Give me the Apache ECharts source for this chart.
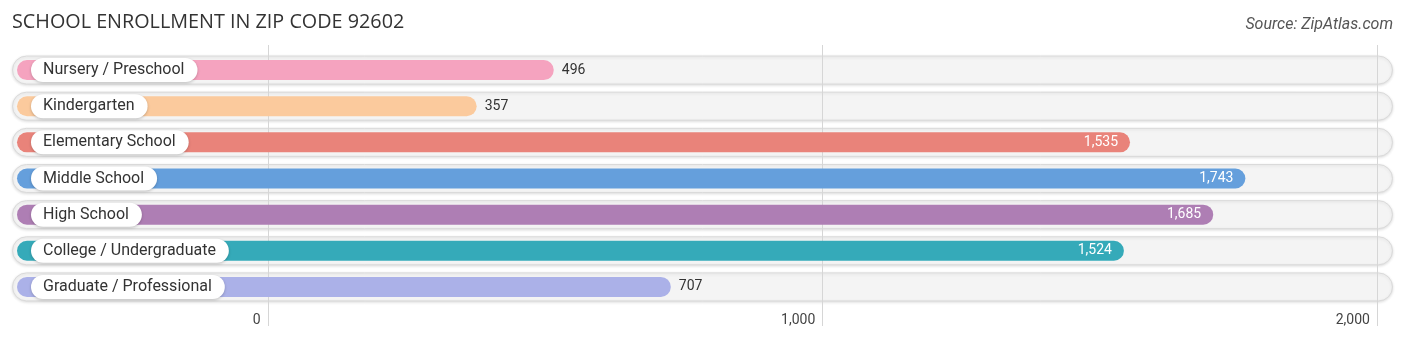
<!DOCTYPE html>
<html>
<head>
<meta charset="utf-8">
<title>School Enrollment in Zip Code 92602</title>
<script src="https://cdn.jsdelivr.net/npm/echarts@6/dist/echarts.min.js"></script>
<style>
  html, body { margin: 0; padding: 0; background: #ffffff; }
  #chart { width: 1406px; height: 342px; }
</style>
</head>
<body>
<div id="chart"></div>
<script>
// Enrollment by school level
const categories = [
  'Nursery / Preschool',
  'Kindergarten',
  'Elementary School',
  'Middle School',
  'High School',
  'College / Undergraduate',
  'Graduate / Professional'
];
const enrollment = [496, 357, 1535, 1743, 1685, 1524, 707];
const barColors = ['#f5a3bf', '#fbca9d', '#e9837a', '#659fdc', '#ae7eb4', '#35aab9', '#abb1e8'];
const tickValues = [0, 1000, 2000];

const AXIS_MIN = -461;
const AXIS_MAX = 2029;
const FONT = 'Roboto, "Noto Sans", sans-serif';

const fmt = v => v.toLocaleString('en-US');

const chart = echarts.init(document.getElementById('chart'), null, { renderer: 'canvas' });

// Light rounded track behind every row
function renderTrack(params, api) {
  const cs = params.coordSys;
  const yc = api.coord([0, api.value(0)])[1];
  const h = 28;
  return {
    type: 'rect',
    shape: { x: cs.x + 0.5, y: yc - h / 2, width: cs.width - 1, height: h, r: h / 2 },
    style: {
      fill: '#f4f4f4',
      stroke: '#dadada',
      lineWidth: 1,
      shadowColor: 'rgba(0,0,0,0.12)',
      shadowBlur: 3,
      shadowOffsetY: 1
    }
  };
}

// Vertical gridlines at the tick values, a little taller than the rows
function renderGrid(params, api) {
  const cs = params.coordSys;
  const x = Math.round(api.coord([api.value(0), 0])[0]) + 0.5;
  return {
    type: 'line',
    shape: { x1: x, y1: cs.y - 7, x2: x, y2: cs.y + cs.height + 21 },
    style: { stroke: '#d6d6d6', lineWidth: 1 }
  };
}

// Coloured value bar with its category pill and value label
function renderBar(params, api) {
  const idx = api.value(0);
  const val = api.value(1);
  const yc = api.coord([0, idx])[1];
  const x0 = api.coord([AXIS_MIN, idx])[0] + 5;
  const x1 = api.coord([val, idx])[0] + 11;
  const h = 20;
  const color = barColors[idx];
  const inside = val > 1000;
  return {
    type: 'group',
    children: [
      {
        type: 'rect',
        shape: { x: x0, y: yc - h / 2, width: x1 - x0, height: h, r: h / 2 },
        style: { fill: color }
      },
      {
        type: 'text',
        x: x0 + 14,
        y: yc,
        style: {
          text: categories[idx],
          font: '16px ' + FONT,
          fill: '#333333',
          verticalAlign: 'middle',
          align: 'left',
          backgroundColor: '#ffffff',
          borderRadius: 12,
          padding: [4, 13, 4, 12],
          shadowColor: 'rgba(0,0,0,0.22)',
          shadowBlur: 3,
          shadowOffsetY: 1
        }
      },
      {
        type: 'text',
        x: inside ? x1 - 12 : x1 + 8,
        y: yc,
        style: {
          text: fmt(val),
          font: '14px ' + FONT,
          fill: inside ? '#ffffff' : '#333333',
          verticalAlign: 'middle',
          align: inside ? 'right' : 'left'
        }
      }
    ]
  };
}

const rowData = categories.map((c, i) => [i]);
const barData = enrollment.map((v, i) => [i, v]);

chart.setOption({
  backgroundColor: '#ffffff',
  animation: false,
  title: [
    {
      text: 'SCHOOL ENROLLMENT IN ZIP CODE 92602',
      left: 7,
      top: 7,
      textStyle: { fontFamily: '"Open Sans", sans-serif', fontSize: 19.8, fontWeight: 'normal', color: '#333333' }
    },
    {
      text: 'Source: ZipAtlas.com',
      right: 8,
      top: 12,
      textStyle: { fontFamily: FONT, fontSize: 16, fontStyle: 'italic', fontWeight: 'normal', color: '#555555' }
    }
  ],
  grid: { left: 12, right: 13, top: 52, bottom: 37 },
  xAxis: {
    type: 'value',
    min: AXIS_MIN,
    max: AXIS_MAX,
    axisLine: { show: false },
    splitLine: { show: false },
    axisTick: { show: false, customValues: tickValues },
    axisLabel: {
      customValues: tickValues,
      formatter: v => fmt(v),
      fontFamily: FONT,
      fontSize: 14,
      color: '#444444',
      align: 'right',
      padding: [0, 7, 0, 0],
      margin: 8
    }
  },
  yAxis: {
    type: 'category',
    data: categories,
    inverse: true,
    show: false
  },
  series: [
    { type: 'custom', z: 1, renderItem: renderTrack, data: rowData, encode: { y: 0 }, silent: true },
    { type: 'custom', z: 2, renderItem: renderGrid, data: tickValues.map(v => [v]), encode: { x: 0 }, silent: true },
    { type: 'custom', z: 3, renderItem: renderBar, data: barData, encode: { y: 0, x: 1 }, silent: true }
  ]
});
</script>
</body>
</html>
